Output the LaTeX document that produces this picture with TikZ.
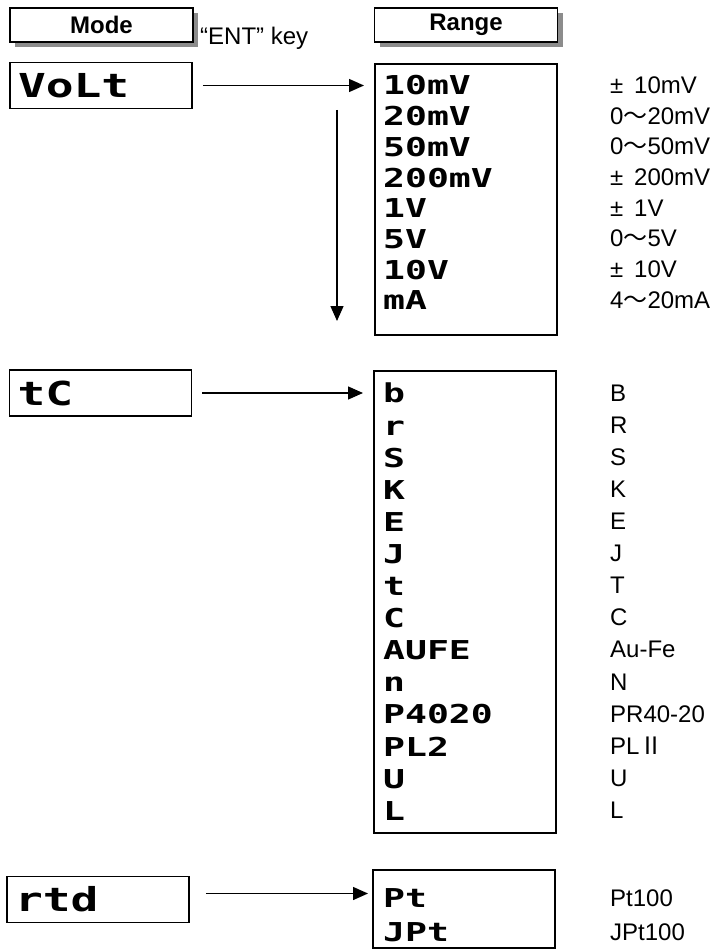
\documentclass[tikz,border=0pt]{standalone}
\usepackage{fontspec}
\setmainfont{Liberation Sans}
\newfontfamily\cjk{Noto Sans CJK JP}
\newfontfamily\segfont[FakeStretch=1.4]{DejaVu Sans Mono Bold}
\usetikzlibrary{arrows.meta,positioning,shadows}

\newcommand{\fwpm}{\makebox[1em][l]{±}}
\newcommand{\fwtilde}{{\cjk ～}}

\tikzset{
  headbox/.style={draw, line width=1.6pt, fill=white, minimum width=183pt, minimum height=34pt,
    font=\bfseries\fontsize{24}{28}\selectfont,
    drop shadow={shadow xshift=5pt, shadow yshift=-5pt, fill=black!45, opacity=1}},
  modebox/.style={draw, line width=1.8pt, minimum width=182pt, minimum height=46pt,
    text width=166pt, align=left, inner xsep=7pt, font=\segfont\fontsize{33}{40}\selectfont},
  rangebox/.style={draw, line width=1.8pt, anchor=north west, minimum width=182pt},
  segcol/.style={anchor=north west, inner sep=0pt, align=left, font=\segfont\fontsize{26}{#1}\selectfont},
  labcol/.style={anchor=north west, inner sep=0pt, align=left, font=\fontsize{24}{#1}\selectfont},
  feed/.style={-{Triangle[length=15pt,width=13pt]}, line width=1.4pt, shorten <=10pt, shorten >=10pt},
}

\begin{document}
\begin{tikzpicture}[x=1pt, y=-1pt]
  \useasboundingbox (0,0) rectangle (713,949);

  % headers
  \node (modehead) [headbox] at (101.5,25) {Mode};
  \node (rangehead) [headbox] at (466,25) {Range};
  \node (entkey) [anchor=west, inner sep=0pt, font=\fontsize{24}{28}\selectfont] at (200,38) {“ENT” key};

  % mode displays
  \node (volt) [modebox] at (101,85.5) {VoLt};
  \node (tc) [modebox] at (100.5,393) {tC};
  \node (rtd) [modebox] at (98,899.5) {rtd};

  % range displays
  \node (vrange) [rangebox, minimum height=271pt] at (374,63) {};
  \node (tcrange) [rangebox, minimum height=462pt] at (373,370) {};
  \node (rtdrange) [rangebox, minimum height=78pt] at (372,869) {};

  \node (vcodes) [segcol=30.7pt] at (383,75.5) {10mV\\20mV\\50mV\\200mV\\1V\\5V\\10V\\mA};
  \node (vnames) [labcol=30.7pt] at (610,76.4)
    {\fwpm10mV\\0\fwtilde20mV\\0\fwtilde50mV\\\fwpm200mV\\\fwpm1V\\0\fwtilde5V\\\fwpm10V\\4\fwtilde20mA};

  \node (tccodes) [segcol=32.1pt] at (383,383)
    {b\\r\\S\\K\\E\\J\\t\\C\\AUFE\\n\\P4020\\PL2\\U\\L};
  \node (tcnames) [labcol=32.1pt] at (610,384.4)
    {B\\R\\S\\K\\E\\J\\T\\C\\Au-Fe\\N\\PR40-20\\PL{\cjk Ⅱ}\\U\\L};

  \node (rtdcodes) [segcol=34pt] at (383,888.5) {Pt\\JPt};
  \node (rtdnames) [labcol=34pt] at (610,889.4) {Pt100\\JPt100};

  % "ENT" key moves down the list
  \coordinate (dtop) at (337,110);
  \coordinate (dbot) at (337,321);
  \draw[feed, shorten <=0pt, shorten >=0pt] (dtop) -- (dbot);

  \draw[feed] (volt.east) -- (volt.east -| vrange.west);
  \draw[feed] (tc.east) -- (tc.east -| tcrange.west);
  \draw[feed, shorten <=16pt, shorten >=4pt] ([yshift=6pt]rtd.east) -- ([yshift=6pt]rtd.east -| rtdrange.west);
\end{tikzpicture}
\end{document}
